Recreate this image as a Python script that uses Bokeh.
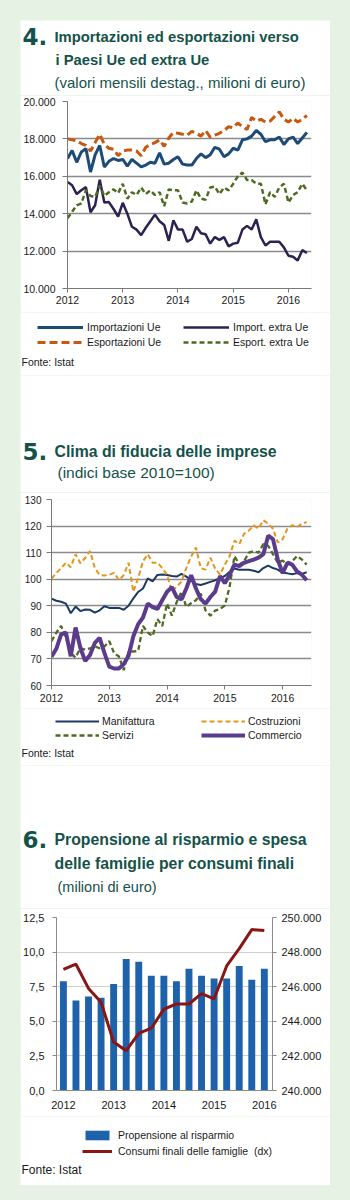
from bokeh.plotting import figure
from bokeh.models import Range1d, FixedTicker, Label, Legend, LegendItem, LinearAxis
from bokeh.layouts import column
from bokeh.embed import file_html
from bokeh.resources import INLINE

# ---------------- data ----------------
years = ["2012", "2013", "2014", "2015", "2016"]

# Panel 4: monthly values Jan 2012 - May 2016 (milioni di euro)
imp_ue = [16950, 17380, 16750, 17300, 17480, 16230, 17150, 17650, 16500, 16800,
          16950, 16850, 16900, 16550, 16900, 16700, 16500, 16600, 16750, 16700,
          17250, 16650, 16700, 16900, 17050, 16650, 16600, 16600, 16950, 17200,
          17000, 17150, 17550, 17450, 17050, 17200, 17500, 17400, 17950, 18000,
          18150, 18450, 18250, 17850, 17950, 17950, 18100, 17700, 18000, 18100,
          17750, 18050, 18350]
esp_ue = [18000, 17950, 17900, 17750, 17650, 17350, 17800, 18250, 17700, 17500,
          17450, 17100, 17350, 17400, 17400, 17350, 17100, 17550, 17700, 17800,
          17950, 17600, 18050, 18350, 18300, 18250, 18200, 18400, 18300, 18150,
          18450, 18100, 18200, 18300, 18450, 18650, 18600, 18850, 18650, 18500,
          19150, 18950, 19050, 18900, 18950, 19200, 19450, 19050, 18900, 19100,
          18900, 19050, 19250]
imp_extra = [15700, 15520, 15050, 15250, 15420, 14080, 14450, 15820, 14600, 14620,
             14250, 13850, 14580, 14000, 13300, 13150, 12850, 13250, 13600, 13950,
             13600, 13400, 12550, 13650, 13150, 13150, 12500, 12650, 13300, 12950,
             12900, 12400, 12750, 12600, 12750, 12250, 12400, 12450, 13150, 13350,
             13150, 13700, 12750, 12300, 12500, 12500, 12500, 12200, 11750, 11700,
             11500, 12050, 11900]
esp_extra = [13750, 14100, 14450, 14550, 15250, 14950, 14900, 15500, 14950, 15150,
             15300, 15100, 15600, 14800, 15150, 15000, 15400, 15050, 15250, 15000,
             15150, 14400, 15300, 15250, 15250, 14600, 14550, 14650, 15250, 14800,
             14750, 15400, 15450, 15050, 15400, 15250, 15600, 16000, 16200, 15800,
             15800, 15600, 15600, 14500, 15150, 14900, 15400, 15600, 14600, 15000,
             15150, 15600, 15250]
y4_ticks = [10000, 12000, 14000, 16000, 18000, 20000]
y4_labels = ["10.000", "12.000", "14.000", "16.000", "18.000", "20.000"]

# Panel 5: monthly indices Jan 2012 - Jun 2016
manifattura = [92.7, 91.9, 91.5, 90.8, 87.2, 89.7, 88.0, 88.6, 88.5, 87.4,
               88.3, 89.8, 89.2, 89.2, 89.2, 88.5, 90.0, 92.8, 95.2, 96.5,
               100.3, 99.2, 101.6, 101.8, 101.6, 101.2, 101.0, 102.0, 101.0, 99.5,
               98.2, 97.8, 98.4, 99.0, 99.6, 100.4, 101.2, 102.8, 104.0, 103.6,
               103.6, 103.6, 103.2, 102.6, 104.2, 105.1, 104.2, 103.6, 102.4, 102.2,
               101.9, 102.3, 102.0, 102.6]
costruzioni = [100.2, 102.3, 104.2, 106.2, 104.5, 109.4, 106.0, 108.0, 110.6, 104.2,
               101.6, 101.4, 101.7, 102.4, 99.7, 101.5, 106.2, 95.3, 100.4, 106.8,
               109.4, 106.2, 106.2, 104.2, 101.7, 95.3, 97.2, 99.1, 104.2, 108.5,
               111.9, 104.2, 103.6, 108.1, 104.0, 101.7, 105.5, 108.7, 114.5, 113.2,
               117.1, 118.3, 120.3, 119.0, 122.2, 120.9, 119.0, 113.8, 115.1, 119.0,
               120.3, 119.6, 120.9, 121.5]
servizi = [76.7, 79.9, 82.4, 77.9, 72.2, 70.5, 74.1, 73.5, 74.0, 74.7,
           74.0, 74.7, 76.7, 72.2, 70.9, 65.8, 72.8, 72.8, 73.0, 82.4,
           79.9, 78.6, 85.0, 82.4, 90.8, 86.3, 91.4, 95.3, 89.5, 91.0,
           92.1, 94.6, 88.2, 86.3, 88.2, 88.8, 90.1, 97.2, 108.7, 105.5,
           106.8, 110.0, 110.6, 110.0, 113.2, 112.6, 109.4, 106.2, 107.0, 105.5,
           106.8, 108.7, 107.4, 105.5]
commercio = [70.8, 73.8, 79.2, 79.9, 71.0, 81.8, 74.1, 69.2, 71.5, 76.0,
             77.9, 72.2, 67.1, 66.4, 66.4, 68.0, 71.2, 78.5, 83.1, 85.6,
             90.8, 89.5, 88.8, 92.1, 95.3, 97.0, 93.3, 92.4, 96.5, 101.5,
             96.5, 92.5, 90.8, 93.3, 95.3, 101.2, 98.5, 101.7, 105.5, 104.9,
             106.2, 106.8, 107.4, 108.1, 109.4, 116.4, 115.1, 107.4, 102.3, 106.2,
             105.5, 102.9, 101.7, 99.6]
y5_ticks = [60, 70, 80, 90, 100, 110, 120, 130]

# Panel 6: quarterly Q1 2012 - Q1 2016
propensione = [7.9, 6.5, 6.8, 6.7, 7.7, 9.5, 9.3, 8.3, 8.3, 7.9, 8.8, 8.3, 8.1, 8.1, 9.0, 8.0, 8.8]
consumi = [247000, 247300, 245900, 245100, 242800, 242300, 243300, 243600, 244700,
           245000, 245000, 245600, 245300, 247200, 248200, 249300, 249250]
y6_ticks = [0, 2.5, 5, 7.5, 10, 12.5]
y6_labels = ["0,0", "2,5", "5,0", "7,5", "10,0", "12,5"]
y6r_ticks = [240000, 242000, 244000, 246000, 248000, 250000]
y6r_labels = ["240.000", "242.000", "244.000", "246.000", "248.000", "250.000"]

# ---------------- styling ----------------
TEAL = "#155249"
GREEN_BG = "#e6f3e4"
FONT = "Liberation Sans"
BIG = "DejaVu Sans"
GRID = "#8a8a8a"
CARD_L, CARD_R = 20, 330
W = CARD_R - CARD_L
BASE_FIX = 6

C_IMP, C_IMPX, C_ESP, C_ESPX = "#1d4b78", "#2c2150", "#c8580f", "#4e6a23"
C_MAN, C_COS, C_SER, C_COM = "#1c3a63", "#e4951c", "#4e6a23", "#5b3b8c"
C_BAR, C_CON = "#1d62ab", "#8a1515"


def base_kw(top, bottom):
    return dict(width=W, height=bottom - top, output_backend="svg", toolbar_location=None,
                border_fill_color="white", background_fill_color="white",
                outline_line_color=None, frame_align=False)


def chart_fig(top, bottom, fl, fr, ft, fb, x_range, y_range):
    p = figure(x_range=x_range, y_range=y_range,
               min_border_left=fl - CARD_L, min_border_right=CARD_R - fr,
               min_border_top=ft - top, min_border_bottom=bottom - fb,
               **base_kw(top, bottom))
    p.xgrid.visible = False
    return p


def text_fig(top, bottom):
    return figure(x_range=Range1d(0, 1), y_range=Range1d(0, 1),
                  x_axis_type=None, y_axis_type=None,
                  min_border_left=0, min_border_right=0, min_border_top=0, min_border_bottom=0,
                  **base_kw(top, bottom))


def style_axis(ax, size, tick_out, standoff, color="#7a7a7a"):
    ax.axis_line_color = color
    ax.major_tick_line_color = color
    ax.major_tick_out = tick_out
    ax.major_tick_in = 0
    ax.minor_tick_line_color = None
    ax.major_label_text_font = FONT
    ax.major_label_text_font_size = size
    ax.major_label_text_color = "#1a1a1a"
    ax.major_label_standoff = standoff


def put(p, bottom, sx, sy, text, font, size, style="normal", color=TEAL):
    p.add_layout(Label(x=sx - CARD_L, y=bottom - sy + BASE_FIX, x_units="screen", y_units="screen",
                       text=text, text_font=font, text_font_size=size,
                       text_font_style=style, text_color=color,
                       text_baseline="alphabetic", text_align="left"))


def legend(p, bottom, items, sx, sy_bottom, glyph_w, standoff, label_w, size,
           orientation="horizontal", spacing=0):
    p.add_layout(Legend(items=items, location=(sx - CARD_L, bottom - sy_bottom),
                        orientation=orientation, glyph_width=glyph_w, glyph_height=12,
                        label_width=label_w, label_height=12, label_standoff=standoff,
                        spacing=spacing, padding=0, margin=0,
                        background_fill_alpha=0, border_line_alpha=0,
                        label_text_font=FONT, label_text_font_size=size,
                        label_text_color="#1a1a1a"))


# ---------------- panel 4 ----------------
H4T, H4B = 20, 95
C4B = 312
P4B = 375
F4L, F4R, F4T, F4B = 67, 311, 101, 288
x4 = list(range(len(imp_ue)))

h4 = text_fig(H4T, H4B)
put(h4, H4B, 22, 42, "4.", BIG, "23px", "bold")
put(h4, H4B, 54, 42, "Importazioni ed esportazioni verso", FONT, "14.8px", "bold")
put(h4, H4B, 55, 65, "i Paesi Ue ed extra Ue", FONT, "14.8px", "bold")
put(h4, H4B, 54, 88, "(valori mensili destag., milioni di euro)", FONT, "15px")

p4 = chart_fig(H4B, C4B, F4L, F4R, F4T, F4B, Range1d(0, 53), Range1d(10000, 20000))
p4.line(x4, imp_ue, line_color=C_IMP, line_width=3)
p4.line(x4, imp_extra, line_color=C_IMPX, line_width=2.5)
p4.line(x4, esp_ue, line_color=C_ESP, line_width=3, line_dash="8 4")
p4.line(x4, esp_extra, line_color=C_ESPX, line_width=2.5, line_dash="5 3")
p4.ygrid.ticker = FixedTicker(ticks=y4_ticks)
p4.ygrid.grid_line_color = GRID
p4.ygrid.grid_line_width = 1.3
p4.yaxis.ticker = FixedTicker(ticks=y4_ticks)
p4.yaxis.major_label_overrides = dict(zip(y4_ticks, y4_labels))
p4.xaxis.ticker = FixedTicker(ticks=[12 * i for i in range(len(years))])
p4.xaxis.major_label_overrides = {12 * i: y for i, y in enumerate(years)}
style_axis(p4.yaxis[0], "10.5px", 5, 7)
style_axis(p4.xaxis[0], "10.5px", 4, 3)

f4 = text_fig(C4B, P4B)
l_imp = f4.line(x4, imp_ue, line_color=C_IMP, line_width=3, visible=False)
l_impx = f4.line(x4, imp_extra, line_color=C_IMPX, line_width=2.5, visible=False)
l_esp = f4.line(x4, esp_ue, line_color=C_ESP, line_width=3, line_dash="8 4", visible=False)
l_espx = f4.line(x4, esp_extra, line_color=C_ESPX, line_width=2.5, line_dash="5 3", visible=False)
legend(f4, P4B, [LegendItem(label="Importazioni Ue", renderers=[l_imp]),
                 LegendItem(label="Import. extra Ue", renderers=[l_impx])],
       37, 333, 46, 4, 96, "10.5px")
legend(f4, P4B, [LegendItem(label="Esportazioni Ue", renderers=[l_esp]),
                 LegendItem(label="Esport. extra Ue", renderers=[l_espx])],
       37, 348, 46, 4, 96, "10.5px")
put(f4, P4B, 21, 367, "Fonte: Istat", FONT, "10.5px", color="#1a1a1a")

# ---------------- panel 5 ----------------
H5T, H5B = 375, 492
C5B = 708
P5B = 765
F5L, F5R, F5T, F5B = 51, 311, 499, 685
x5 = list(range(len(manifattura)))

h5 = text_fig(H5T, H5B)
put(h5, H5B, 22, 457, "5.", BIG, "23px", "bold")
put(h5, H5B, 54, 457, "Clima di fiducia delle imprese", FONT, "15.8px", "bold")
put(h5, H5B, 57, 478, "(indici base 2010=100)", FONT, "15.5px")

p5 = chart_fig(H5B, C5B, F5L, F5R, F5T, F5B, Range1d(0, 54), Range1d(60, 130))
p5.line(x5, manifattura, line_color=C_MAN, line_width=2)
p5.line(x5, costruzioni, line_color=C_COS, line_width=2, line_dash="5 3")
p5.line(x5, servizi, line_color=C_SER, line_width=2.3, line_dash="5 3")
p5.line(x5, commercio, line_color=C_COM, line_width=4)
p5.ygrid.ticker = FixedTicker(ticks=y5_ticks)
p5.ygrid.grid_line_color = GRID
p5.ygrid.grid_line_width = 1.3
p5.yaxis.ticker = FixedTicker(ticks=y5_ticks)
p5.xaxis.ticker = FixedTicker(ticks=[12 * i for i in range(len(years))])
p5.xaxis.major_label_overrides = {12 * i: y for i, y in enumerate(years)}
style_axis(p5.yaxis[0], "10px", 5, 5)
style_axis(p5.xaxis[0], "10.5px", 4, 4)

f5 = text_fig(C5B, P5B)
l_man = f5.line(x5, manifattura, line_color=C_MAN, line_width=2, visible=False)
l_cos = f5.line(x5, costruzioni, line_color=C_COS, line_width=2, line_dash="5 3", visible=False)
l_ser = f5.line(x5, servizi, line_color=C_SER, line_width=2.3, line_dash="5 3", visible=False)
l_com = f5.line(x5, commercio, line_color=C_COM, line_width=4, visible=False)
legend(f5, P5B, [LegendItem(label="Manifattura", renderers=[l_man]),
                 LegendItem(label="Costruzioni", renderers=[l_cos])],
       55, 727, 44, 3, 99, "10.5px")
legend(f5, P5B, [LegendItem(label="Servizi", renderers=[l_ser]),
                 LegendItem(label="Commercio", renderers=[l_com])],
       55, 741, 44, 3, 99, "10.5px")
put(f5, P5B, 21, 758, "Fonte: Istat", FONT, "10.5px", color="#1a1a1a")

# ---------------- panel 6 ----------------
H6T, H6B = 765, 908
C6B = 1116
P6B = 1185
F6L, F6R, F6T, F6B = 55, 272, 917, 1090
x6 = list(range(len(propensione)))

h6 = text_fig(H6T, H6B)
put(h6, H6B, 22, 845, "6.", BIG, "23px", "bold")
put(h6, H6B, 54, 845, "Propensione al risparmio e spesa", FONT, "15.8px", "bold")
put(h6, H6B, 54, 869, "delle famiglie per consumi finali", FONT, "15.8px", "bold")
put(h6, H6B, 57, 892, "(milioni di euro)", FONT, "14.5px")

p6 = chart_fig(H6B, C6B, F6L, F6R, F6T, F6B, Range1d(-0.55, 16.65), Range1d(0, 12.5))
p6.extra_y_ranges = {"right": Range1d(240000, 250000)}
p6.vbar(x=x6, top=propensione, width=0.55, fill_color=C_BAR, line_color=None)
p6.line(x6, consumi, y_range_name="right", line_color=C_CON, line_width=3)
p6.ygrid.ticker = FixedTicker(ticks=y6_ticks)
p6.ygrid.grid_line_color = "#cfcfcf"
p6.ygrid.grid_line_width = 1
p6.yaxis.ticker = FixedTicker(ticks=y6_ticks)
p6.yaxis.major_label_overrides = dict(zip(y6_ticks, y6_labels))
p6.xaxis.ticker = FixedTicker(ticks=[4 * i for i in range(len(years))])
p6.xaxis.major_label_overrides = {4 * i: y for i, y in enumerate(years)}
style_axis(p6.yaxis[0], "11px", 4, 8, "#8a8a8a")
style_axis(p6.xaxis[0], "11px", 0, 10, "#8a8a8a")
rax = LinearAxis(y_range_name="right", ticker=FixedTicker(ticks=y6r_ticks),
                 major_label_overrides=dict(zip(y6r_ticks, y6r_labels)))
style_axis(rax, "11px", 4, 5, "#8a8a8a")
p6.add_layout(rax, "right")

f6 = text_fig(C6B, P6B)
l_bar = f6.vbar(x=x6, top=propensione, width=0.55, fill_color=C_BAR, line_color=None, visible=False)
l_con = f6.line(x6, consumi, line_color=C_CON, line_width=3, visible=False)
legend(f6, P6B, [LegendItem(label="Propensione al risparmio", renderers=[l_bar]),
                 LegendItem(label="Consumi finali delle famiglie  (dx)", renderers=[l_con])],
       82, 1157, 30, 6, 60, "10.5px", orientation="vertical", spacing=4)
put(f6, P6B, 21, 1175, "Fonte: Istat", FONT, "12px", color="#1a1a1a")

layout = column(h4, p4, f4, h5, p5, f5, h6, p6, f6, spacing=0,
                styles={"background-color": GREEN_BG, "padding": "20px 20px 15px 20px"})

open("out.html", "w").write(file_html(layout, INLINE))
